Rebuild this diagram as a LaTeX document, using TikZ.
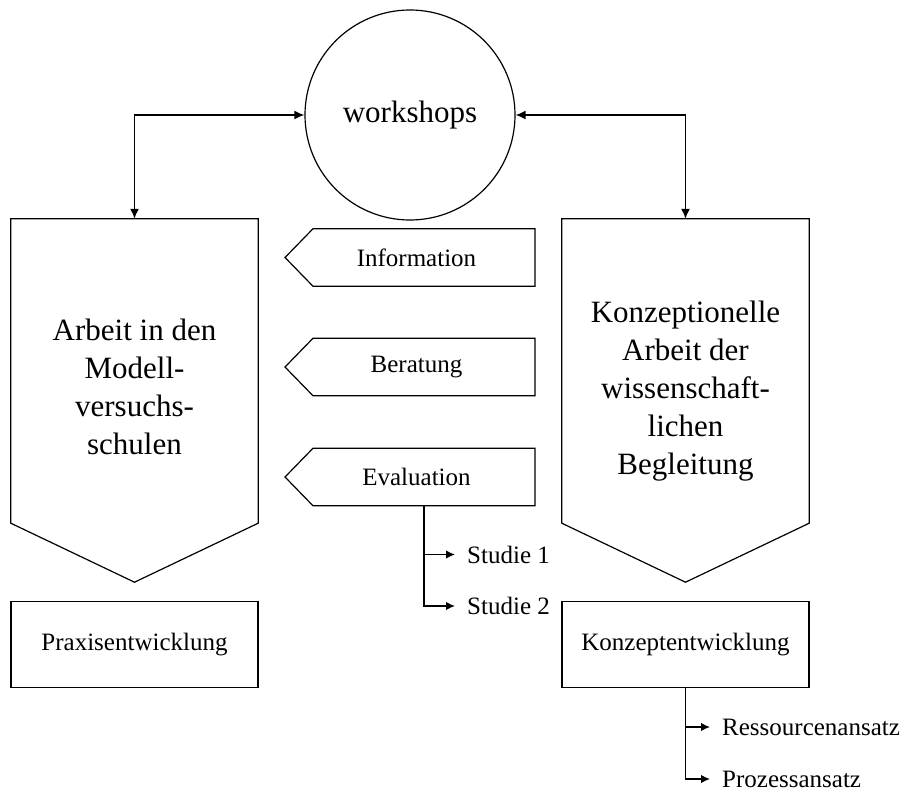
\documentclass[tikz,border=0pt]{standalone}
\usepackage{fontspec}
\setmainfont{Liberation Serif}
\usetikzlibrary{
  arrows.meta, % Latex-Pfeilspitzen
  calc,        % Koordinatenrechnung
  positioning  % relative Platzierung
}
\tikzset{
  bigfont/.style={font=\fontsize{31}{38}\selectfont},
  smallfont/.style={font=\fontsize{25}{30}\selectfont},
  shapeline/.style={line width=1.2pt, line join=miter},
  hub/.style={circle, draw, line width=1.2pt, minimum size=210pt, inner sep=0pt, bigfont},
  colbody/.style={inner sep=0pt, minimum width=247pt, minimum height=304pt},
  tagtext/.style={inner sep=0pt, smallfont},
  resultbox/.style={draw, line width=1.2pt, minimum width=247pt, minimum height=86pt, inner sep=0pt, smallfont},
  leaf/.style={anchor=west, inner xsep=12pt, inner ysep=0pt, smallfont},
  link/.style={line width=1.5pt, {Latex[length=10pt,width=9pt]}-{Latex[length=10pt,width=9pt]}},
  branchline/.style={line width=1.5pt, -{Latex[length=9pt,width=8.5pt]}}
}
\begin{document}
\begin{tikzpicture}[x=1pt, y=1pt]
  \useasboundingbox (0,0) rectangle (905,-792);

  % --- workshops oben ---
  \node[hub] (workshops) at (410,-115) {workshops};

  % --- die beiden grossen Spalten (Fuenfecke nach unten) ---
  \node[colbody] (arbeit) at (134.5,-371) {};
  \node[colbody] (konzeption) at (685.5,-371) {};
  \foreach \n in {arbeit,konzeption}
    \draw[shapeline] (\n.north west) -- (\n.north east) -- (\n.south east)
      -- ($(\n.south)+(0,-59)$) -- (\n.south west) -- cycle;
  \node[bigfont, align=center] (arbeittext) at (134.5,-387)
    {Arbeit in den\\Modell-\\versuchs-\\schulen};
  \node[bigfont, align=center] (konzeptiontext) at (685.5,-391.5)
    {Konzeptionelle\\Arbeit der\\wissenschaft-\\lichen\\Begleitung};

  \draw[link] (workshops.west) -| (arbeit.north);
  \draw[link] (workshops.east) -| (konzeption.north);

  % --- mittlere Schilder (nach links zeigend) ---
  \node[tagtext] (information) at (416.5,-257.5) {Information};
  \node[tagtext] (beratung) at (416.5,-367) {Beratung};
  \node[tagtext] (evaluation) at (416.5,-477) {Evaluation};
  \foreach \n in {information,beratung,evaluation}
    \draw[shapeline] ($(\n)+(-103.5,28.75)$) -- ($(\n)+(118.5,28.75)$)
      -- ($(\n)+(118.5,-28.75)$) -- ($(\n)+(-103.5,-28.75)$)
      -- ($(\n)+(-131.5,0)$) -- cycle;

  % --- Ergebnisse unten ---
  \node[resultbox, below=78pt of arbeit] (praxis) {Praxisentwicklung};
  \node[resultbox, below=78pt of konzeption] (konzept) {Konzeptentwicklung};

  % --- Verzweigungen ---
  \coordinate (evalfoot) at ($(evaluation)+(7.5,-28.75)$);
  \node[leaf] (studieeins) at (455,-554.5) {Studie 1};
  \node[leaf] (studiezwei) at (455,-606) {Studie 2};
  \draw[branchline] (evalfoot) |- (studieeins);
  \draw[branchline] (evalfoot) |- (studiezwei);

  \node[leaf] (ressourcen) at (710,-727) {Ressourcenansatz};
  \node[leaf] (prozess) at (710,-779) {Prozessansatz};
  \draw[branchline] (konzept.south) |- (ressourcen);
  \draw[branchline] (konzept.south) |- (prozess);
\end{tikzpicture}
\end{document}
